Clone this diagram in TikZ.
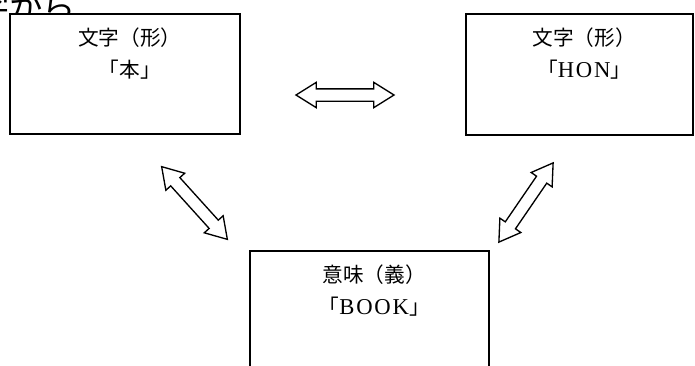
\documentclass[tikz,border=0pt]{standalone}
\usepackage{fontspec}
\setmainfont{Noto Sans CJK JP}
\newfontfamily\latinwide[LetterSpace=8]{Liberation Serif}
\newcommand{\romanword}[1]{{\latinwide\fontsize{17}{24}\selectfont #1}}
\usetikzlibrary{calc}
\usetikzlibrary{shapes.arrows}
\usetikzlibrary{positioning}
\tikzset{
	concept/.style={rectangle, draw, fill=white, line width=1pt, inner sep=0pt},
	caption/.style={align=center, inner sep=0pt, xshift=3.5pt, font=\fontsize{15.5}{24}\selectfont},
	relation/.style={double arrow, draw, fill=white, line width=1pt, inner xsep=0pt,
		inner ysep=4.125pt, minimum height=73.5pt,
		double arrow head extend=4.9pt, double arrow tip angle=64}
}

\begin{document}
\begin{tikzpicture}[x=0.75pt, y=-0.75pt]
\useasboundingbox (0,0) rectangle (695,365);

\node[anchor=base west, inner sep=0pt, font=\fontsize{25}{30}\selectfont] (title) at (-24,19) {字から};

\node[concept, minimum width=172.5pt, minimum height=90pt] (form) at (125,74) {};
\node[concept, minimum width=170.25pt, minimum height=90.75pt] (reading) at (579.5,74.5) {};
\node[concept, minimum width=179.25pt, minimum height=90pt] (meaning) at (369.5,311) {};

\node[caption, below = 11pt of form.north] (formtext) {文字（形）\\「本」};
\node[caption, below = 11pt of reading.north] (readingtext) {文字（形）\\「\romanword{HON}」};
\node[caption, below = 11pt of meaning.north] (meaningtext) {意味（義）\\「\romanword{BOOK}」};

\node[relation] (formreading) at (345,95) {};
\node[relation, rotate=-47.9] (formmeaning) at (194.5,203) {};
\node[relation, rotate=55.6, minimum height=72pt] (readingmeaning) at (526,202.5) {};

\end{tikzpicture}
\end{document}
